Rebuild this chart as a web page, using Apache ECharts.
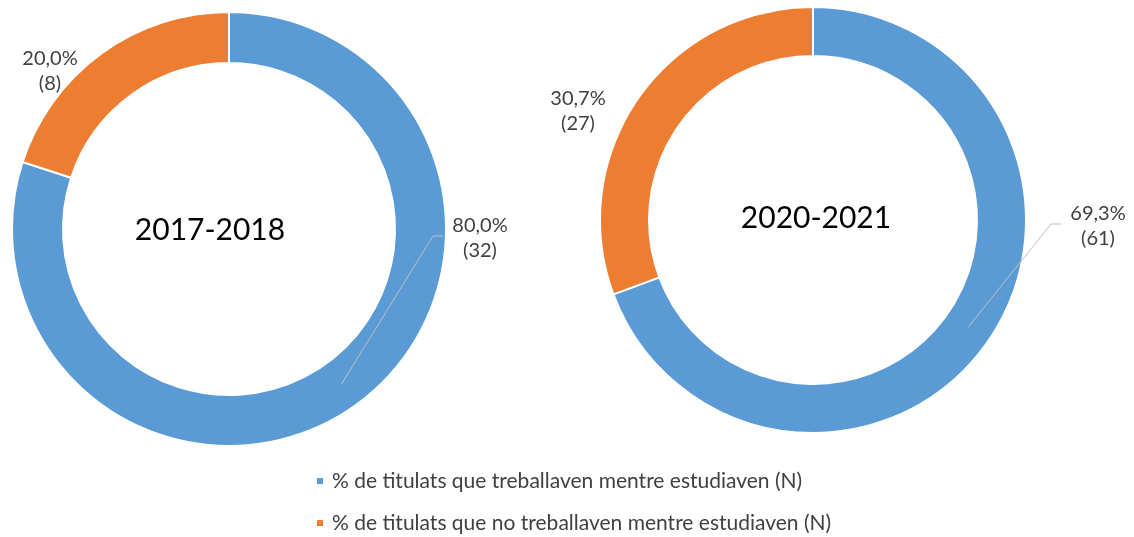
<!DOCTYPE html>
<html>
<head>
<meta charset="utf-8">
<script src="https://cdn.jsdelivr.net/npm/echarts@6/dist/echarts.min.js"></script>
<style>
  html, body { margin: 0; padding: 0; background: #fff; }
  #chart { width: 1134px; height: 537px; }
</style>
</head>
<body>
<div id="chart"></div>
<script>
const categories = [
  '% de titulats que treballaven mentre estudiaven (N)',
  '% de titulats que no treballaven mentre estudiaven (N)'
];
const periods = ['2017-2018', '2020-2021'];
const counts2017 = [32, 8];
const counts2020 = [61, 27];

const colors = ['#5b9bd5', '#ed7d31'];
const FONT = 'Lato, "Open Sans", sans-serif';

// donut placement (px) and where Excel put each label
const donuts = [
  { values: counts2017, center: [229, 229], radius: [166, 217], title: [210, 230],
    labels: [[480, 238], [50, 71]] },
  { values: counts2020, center: [813, 220], radius: [164, 213], title: [816, 218],
    labels: [[1098, 226], [578, 111]] }
];

// clockwise angle (rad) from 12 o'clock to the middle of slice idx
function midAngle(values, idx) {
  const total = values.reduce((a, b) => a + b, 0);
  let before = 0;
  for (let i = 0; i < idx; i++) before += values[i];
  return (before + values[idx] / 2) / total * 2 * Math.PI;
}

function pctLabel(values) {
  const total = values.reduce((a, b) => a + b, 0);
  return p => (p.value / total * 100).toFixed(1).replace('.', ',') + '%\n(' + p.value + ')';
}

// leader line from the middle of the blue ring slice to the left of its label
function leader(d) {
  const a = midAngle(d.values, 0);
  const rm = (d.radius[0] + d.radius[1]) / 2;
  const start = [d.center[0] + rm * Math.sin(a), d.center[1] - rm * Math.cos(a)];
  const pos = d.labels[0];
  const endX = pos[0] - 37;
  const y = pos[1] - 2;
  return {
    type: 'polyline',
    silent: true,
    z: 10,
    shape: { points: [start, [endX - 10, y], [endX, y]] },
    style: { stroke: '#bfbfbf', lineWidth: 1, fill: null }
  };
}

const chart = echarts.init(document.getElementById('chart'));

chart.setOption({
  animation: false,
  backgroundColor: '#fff',
  legend: {
    data: categories,
    orient: 'vertical',
    left: 315,
    top: 470,
    padding: 0,
    itemGap: 20,
    itemWidth: 8,
    itemHeight: 8,
    icon: 'rect',
    selectedMode: false,
    textStyle: { color: '#404040', fontFamily: FONT, fontSize: 21, lineHeight: 22, padding: [0, 0, 0, 3] }
  },
  graphic: donuts.map((d, s) => ({
    type: 'text',
    x: d.title[0],
    y: d.title[1],
    silent: true,
    style: {
      text: periods[s],
      fill: '#000',
      font: '30px ' + FONT,
      textAlign: 'center',
      textVerticalAlign: 'middle'
    }
  })).concat(donuts.map(leader)),
  series: donuts.map((d, s) => ({
    type: 'pie',
    name: periods[s],
    center: d.center,
    radius: d.radius,
    startAngle: 90,
    clockwise: true,
    avoidLabelOverlap: false,
    silent: true,
    itemStyle: { borderColor: '#fff', borderWidth: 2 },
    label: {
      show: true,
      position: 'outside',
      formatter: pctLabel(d.values),
      color: '#404040',
      fontFamily: FONT,
      fontSize: 20,
      lineHeight: 25
    },
    labelLine: { show: false },
    labelLayout: function (p) {
      const pos = d.labels[p.dataIndex];
      return { x: pos[0], y: pos[1], align: 'center', verticalAlign: 'middle' };
    },
    data: d.values.map((v, i) => ({
      name: categories[i],
      value: v,
      itemStyle: { color: colors[i] }
    }))
  }))
});
</script>
</body>
</html>
